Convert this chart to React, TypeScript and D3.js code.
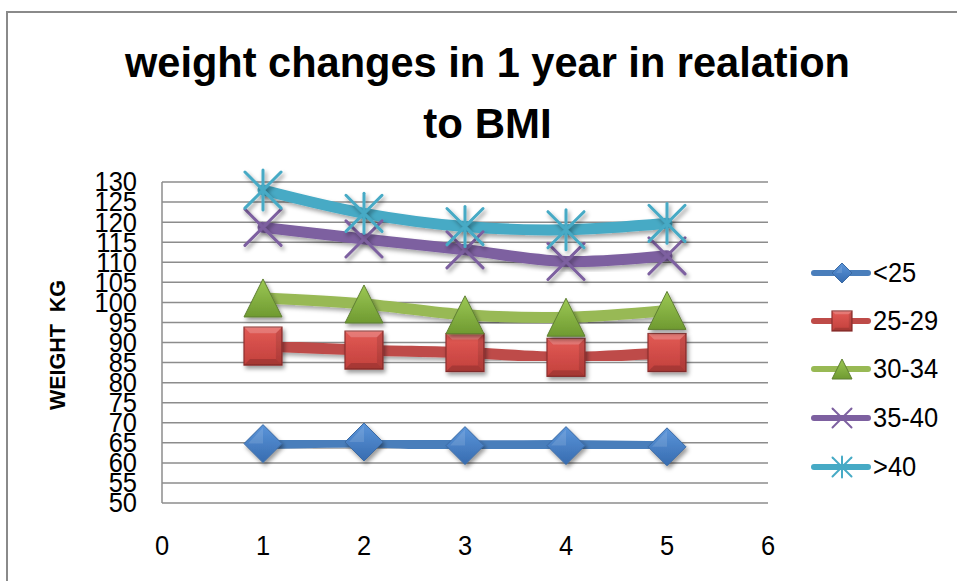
import React from "react";
import * as d3 from "d3";

const xValues = [1, 2, 3, 4, 5];
const seriesNames = ["<25", "25-29", "30-34", "35-40", ">40"];
const under25 = [64.8, 65.2, 64.3, 64.3, 64.0];
const bmi25to29 = [89.1, 88.1, 87.5, 86.3, 87.5];
const bmi30to34 = [101.1, 99.6, 96.9, 96.3, 98.0];
const bmi35to40 = [118.7, 115.8, 113.1, 110.2, 111.6];
const over40 = [128.0, 122.2, 118.9, 118.1, 119.7];
const yTicks = [50, 55, 60, 65, 70, 75, 80, 85, 90, 95, 100, 105, 110, 115, 120, 125, 130];
const xTicks = [0, 1, 2, 3, 4, 5, 6];
const titleLines = ["weight changes in 1 year in realation", "to BMI"];
const yTitle = "WEIGHT  KG";

const seriesValues = [under25, bmi25to29, bmi30to34, bmi35to40, over40];
const lineColors = ["#4A7EBB", "#BE4B48", "#98B954", "#7D60A0", "#46AAC5"];
const markerTypes = ["diamond", "square", "triangle", "x", "star"];

const W = 957;
const H = 581;
const x = d3.scaleLinear().domain([0, 6]).range([162, 768]);
const y = d3.scaleLinear().domain([50, 130]).range([503, 182]);
const line = d3
  .line<number>()
  .x((_, i) => x(xValues[i]))
  .y((d) => y(d))
  .curve(d3.curveCatmullRom.alpha(0.5));

const FONT = "'Liberation Sans', Arial, sans-serif";

function Marker({ type, cx, cy, s, legend }: { type: string; cx: number; cy: number; s: number; legend?: boolean }) {
  const h = s / 2;
  const filt = legend ? undefined : "url(#mshadow)";
  if (type === "diamond") {
    const hw = h;
    const hh = h;
    return (
      <g filter={filt}>
        <path
          d={`M${cx},${cy - hh}L${cx + hw},${cy}L${cx},${cy + hh}L${cx - hw},${cy}Z`}
          fill="url(#gBlue)"
          stroke="#3B6AA3"
          strokeWidth={1}
        />
        <path
          d={`M${cx},${cy - hh + 3}L${cx - hw + 4},${cy}L${cx},${cy}Z`}
          fill="#ffffff"
          opacity={0.12}
        />
      </g>
    );
  }
  if (type === "square") {
    const b = s * 0.16;
    return (
      <g filter={filt}>
        <rect x={cx - h} y={cy - h} width={s} height={s} fill="url(#gRed)" stroke="#8C2F2D" strokeWidth={1.2} />
        <path
          d={`M${cx - h},${cy - h}L${cx + h},${cy - h}L${cx + h - b},${cy - h + b}L${cx - h + b},${cy - h + b}Z`}
          fill="#ffffff"
          opacity={0.2}
        />
        <path
          d={`M${cx - h},${cy + h}L${cx + h},${cy + h}L${cx + h - b},${cy + h - b}L${cx - h + b},${cy + h - b}Z`}
          fill="#000000"
          opacity={0.15}
        />
        <path
          d={`M${cx + h},${cy - h}L${cx + h},${cy + h}L${cx + h - b},${cy + h - b}L${cx + h - b},${cy - h + b}Z`}
          fill="#000000"
          opacity={0.1}
        />
      </g>
    );
  }
  if (type === "triangle") {
    return (
      <g filter={filt}>
        <path
          d={`M${cx},${cy - h}L${cx + h},${cy + h}L${cx - h},${cy + h}Z`}
          fill="url(#gGreen)"
          stroke="#5F7F32"
          strokeWidth={1}
        />
      </g>
    );
  }
  if (type === "x") {
    const r = h * 0.95;
    return (
      <g filter={filt} stroke="#7D60A0" strokeWidth={legend ? 2 : 3} strokeLinecap="round">
        <line x1={cx - r} y1={cy - r} x2={cx + r} y2={cy + r} />
        <line x1={cx - r} y1={cy + r} x2={cx + r} y2={cy - r} />
      </g>
    );
  }
  // star
  const r = h * 0.95;
  return (
    <g filter={filt} stroke="#46AAC5" strokeWidth={legend ? 2 : 3} strokeLinecap="round">
      <line x1={cx - r} y1={cy - r} x2={cx + r} y2={cy + r} />
      <line x1={cx - r} y1={cy + r} x2={cx + r} y2={cy - r} />
      <line x1={cx} y1={cy - h * 1.05} x2={cx} y2={cy + h * 1.05} />
    </g>
  );
}

export default function App() {
  const legendYs = [273, 321, 369, 418, 467];
  return (
    <div style={{ position: "fixed", left: 0, top: 0 }}>
      <svg width={W} height={H} style={{ display: "block", background: "#fff" }}>
        <defs>
          <filter id="lshadow" x="-10%" y="-30%" width="120%" height="160%">
            <feDropShadow dx={2} dy={3} stdDeviation={2} floodColor="#000" floodOpacity={0.35} />
          </filter>
          <filter id="mshadow" x="-40%" y="-40%" width="180%" height="180%">
            <feDropShadow dx={2} dy={3} stdDeviation={2.2} floodColor="#000" floodOpacity={0.4} />
          </filter>
          <linearGradient id="gBlue" x1="0" y1="0" x2="0" y2="1">
            <stop offset="0" stopColor="#5B95DA" />
            <stop offset="1" stopColor="#376CB0" />
          </linearGradient>
          <linearGradient id="gRed" x1="0" y1="0" x2="0" y2="1">
            <stop offset="0" stopColor="#E25A55" />
            <stop offset="1" stopColor="#C2403C" />
          </linearGradient>
          <linearGradient id="gGreen" x1="0" y1="0" x2="0" y2="1">
            <stop offset="0" stopColor="#9CC854" />
            <stop offset="1" stopColor="#6F9A31" />
          </linearGradient>
        </defs>

        {/* chart border */}
        <path d={`M7,${H}L7,12L${W},12`} fill="none" stroke="#8A8A8A" strokeWidth={2} />

        {/* title */}
        <text
          x={487.5}
          y={77}
          textAnchor="middle"
          fontFamily={FONT}
          fontWeight="bold"
          fontSize={42}
          textLength={725}
          lengthAdjust="spacingAndGlyphs"
          fill="#000"
        >
          {titleLines[0]}
        </text>
        <text x={487.5} y={138} textAnchor="middle" fontFamily={FONT} fontWeight="bold" fontSize={42} fill="#000">
          {titleLines[1]}
        </text>

        {/* gridlines */}
        {yTicks.map((t) => (
          <line key={t} x1={x(0)} x2={x(6)} y1={y(t)} y2={y(t)} stroke="#8C8C8C" strokeWidth={1.5} />
        ))}
        <line x1={x(0)} x2={x(0)} y1={y(130)} y2={y(50)} stroke="#8C8C8C" strokeWidth={1.5} />

        {/* y tick labels */}
        {yTicks.map((t) => (
          <text
            key={t}
            transform={`translate(137,${y(t)}) scale(1,1.1)`}
            textAnchor="end"
            dominantBaseline="central"
            fontFamily={FONT}
            fontSize={25.5}
            fill="#000"
          >
            {t}
          </text>
        ))}

        {/* x tick labels */}
        {xTicks.map((t) => (
          <text
            key={t}
            transform={`translate(${x(t)},546) scale(1,1.1)`}
            textAnchor="middle"
            dominantBaseline="central"
            fontFamily={FONT}
            fontSize={25.5}
            fill="#000"
          >
            {t}
          </text>
        ))}

        {/* y title */}
        <text
          transform={`translate(57.5,345) rotate(-90)`}
          textAnchor="middle"
          dominantBaseline="central"
          fontFamily={FONT}
          fontWeight="bold"
          fontSize={21.5}
          fill="#000"
          xmlSpace="preserve"
          style={{ whiteSpace: "pre" }}
        >
          {yTitle}
        </text>

        {/* lines */}
        {seriesValues.map((vals, si) => (
          <path
            key={si}
            d={line(vals) || ""}
            fill="none"
            stroke={lineColors[si]}
            strokeWidth={11}
            strokeLinecap="round"
            strokeLinejoin="round"
            filter="url(#lshadow)"
          />
        ))}

        {/* markers */}
        {seriesValues.map((vals, si) => (
          <g key={si}>
            {vals.map((v, i) => (
              <Marker key={i} type={markerTypes[si]} cx={x(xValues[i])} cy={y(v)} s={38} />
            ))}
          </g>
        ))}

        {/* legend */}
        {seriesNames.map((name, i) => (
          <g key={name}>
            <line
              x1={814}
              x2={868}
              y1={legendYs[i]}
              y2={legendYs[i]}
              stroke={lineColors[i]}
              strokeWidth={6}
              strokeLinecap="round"
            />
            <Marker type={markerTypes[i]} cx={842} cy={legendYs[i]} s={20} legend />
            <text
              transform={`translate(873,${legendYs[i]}) scale(1,1.1)`}
              dominantBaseline="central"
              fontFamily={FONT}
              fontSize={25.5}
              fill="#000"
            >
              {name}
            </text>
          </g>
        ))}
      </svg>
    </div>
  );
}
